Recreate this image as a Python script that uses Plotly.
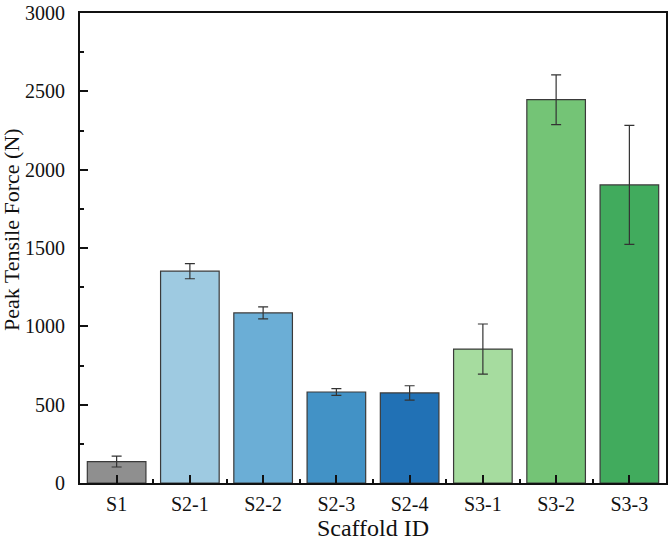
import plotly.graph_objects as go

categories = ["S1", "S2-1", "S2-2", "S2-3", "S2-4", "S3-1", "S3-2", "S3-3"]
values = [137, 1352, 1086, 581, 575, 855, 2447, 1903]
errors = [35, 48, 38, 22, 46, 160, 159, 380]
colors = ["#8f8f8f", "#9ecae1", "#6baed6", "#4292c6", "#2171b5",
          "#a6dc9f", "#74c476", "#41ab5d"]
y_ticks = [0, 500, 1000, 1500, 2000, 2500, 3000]

xpos = list(range(len(categories)))

fig = go.Figure()
fig.add_trace(go.Bar(
    x=xpos, y=values, width=0.8,
    marker=dict(color=colors, line=dict(color="#3a3a3a", width=1.2)),
    error_y=dict(type="data", array=errors, visible=True,
                 color="#333333", thickness=1.2, width=5),
))

font = "Liberation Serif, Times New Roman, serif"
fig.update_layout(
    width=670, height=548,
    margin=dict(l=80, r=2, t=8, b=65),
    plot_bgcolor="white", paper_bgcolor="white",
    showlegend=False,
    font=dict(family=font, color="#111111"),
    xaxis=dict(
        range=[-0.5, 7.5], tickmode="array", tickvals=xpos, ticktext=categories,
        ticks="inside", ticklen=8, tickwidth=1.5, tickcolor="#111",
        minor=dict(tickmode="linear", tick0=0.5, dtick=1, ticks="inside",
                   ticklen=4, tickwidth=1.5, tickcolor="#111"),
        showline=True, linecolor="#111", linewidth=2, mirror=True,
        showgrid=False, zeroline=False,
        tickfont=dict(size=20, family=font), ticklabelstandoff=2,
        title=dict(text="Scaffold ID", font=dict(size=24, family=font), standoff=4),
    ),
    yaxis=dict(
        range=[0, 3000.5], tickmode="array", tickvals=y_ticks,
        ticks="inside", ticklen=8, tickwidth=1.5, tickcolor="#111",
        minor=dict(tickmode="linear", tick0=250, dtick=500, ticks="inside",
                   ticklen=4, tickwidth=1.5, tickcolor="#111"),
        showline=True, linecolor="#111", linewidth=2, mirror=True,
        showgrid=False, zeroline=False, ticklabeloverflow="allow",
        tickfont=dict(size=20, family=font), ticklabelstandoff=9,
    ),
    annotations=[dict(
        text="Peak Tensile Force (N)", textangle=-90,
        xref="paper", yref="paper", x=-0.117, y=0.539,
        xanchor="center", yanchor="middle", showarrow=False,
        font=dict(size=22, family=font, color="#111111"),
    )],
)

fig.write_html("out.html")
